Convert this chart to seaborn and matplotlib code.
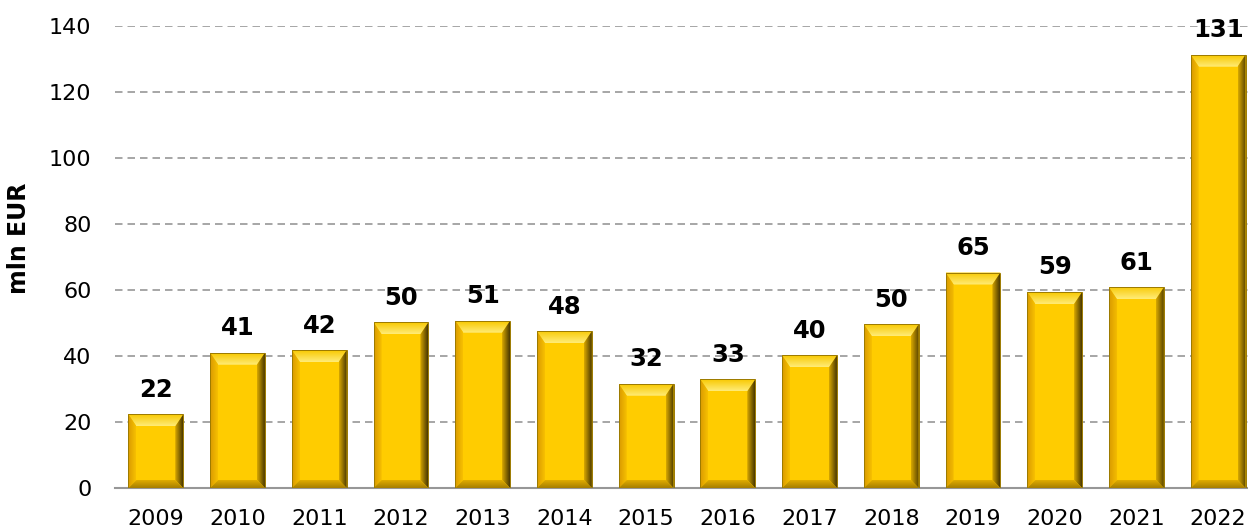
import numpy as np
import matplotlib.pyplot as plt
import seaborn as sns
from matplotlib.patches import Polygon
from matplotlib.colors import LinearSegmentedColormap

# data
years = ['2009', '2010', '2011', '2012', '2013', '2014', '2015',
         '2016', '2017', '2018', '2019', '2020', '2021', '2022']
values = [22.3, 41.0, 41.8, 50.2, 50.7, 47.5, 31.6,
          32.9, 40.2, 49.6, 65.3, 59.4, 60.8, 131.3]
labels = ['22', '41', '42', '50', '51', '48', '32',
          '33', '40', '50', '65', '59', '61', '131']

sns.set_style('white')
plt.rcParams['font.family'] = ['DejaVu Sans']


def grad_poly(ax, pts, c_from, c_to, direction):
    # fill a polygon with a linear gradient (c_from at the low side)
    poly = Polygon(pts, closed=True, facecolor='none', edgecolor='none')
    ax.add_patch(poly)
    xs, ys = zip(*pts)
    cmap = LinearSegmentedColormap.from_list('g', [c_from, c_to])
    if direction == 'x':
        arr = np.linspace(0, 1, 64).reshape(1, -1)
    else:
        arr = np.linspace(0, 1, 64).reshape(-1, 1)
    im = ax.imshow(arr, cmap=cmap, extent=[min(xs), max(xs), min(ys), max(ys)],
                   origin='lower', aspect='auto', zorder=3, interpolation='bilinear')
    im.set_clip_path(poly)


fig = plt.figure(figsize=(12.48, 5.29), dpi=100)
ax = fig.add_axes([115 / 1248, 41 / 529, 1144 / 1248, 462 / 529])

sns.barplot(x=years, y=values, color='#FFCC00', width=0.67, saturation=1,
            edgecolor='none', ax=ax)

# bevel sizes in pixels -> data units
px_x = 14 / 1144
px_y = 140 / 462
side = 8 * px_x
top_b = 12 * px_y
bot_b = 8 * px_y

bars = list(ax.patches)
for bar in bars:
    x0 = bar.get_x()
    x1 = x0 + bar.get_width()
    h = bar.get_height()
    grad_poly(ax, [(x0, h), (x1, h), (x1 - side, h - top_b), (x0 + side, h - top_b)],
              '#FFEC78', '#F8C800', 'y')
    grad_poly(ax, [(x0, h), (x0 + side, h - top_b), (x0 + side, bot_b), (x0, 0)],
              '#D99A00', '#F7C000', 'x')
    grad_poly(ax, [(x1, h), (x1 - side, h - top_b), (x1 - side, bot_b), (x1, 0)],
              '#D8A800', '#4A3800', 'x')
    grad_poly(ax, [(x0, 0), (x1, 0), (x1 - side, bot_b), (x0 + side, bot_b)],
              '#A67E00', '#E0AC00', 'y')
    ax.add_patch(Polygon([(x0, 0), (x0, h), (x1, h), (x1, 0)], closed=True,
                         facecolor='none', edgecolor='#9C7A00', linewidth=0.7, zorder=4))

for bar, lab in zip(bars, labels):
    ax.annotate(lab, (bar.get_x() + bar.get_width() / 2, bar.get_height()),
                xytext=(0, 9), textcoords='offset points', ha='center', va='bottom',
                fontsize=17.5, fontweight='bold', color='black', zorder=5)

ax.set_xlim(-0.5, 13.5)
ax.set_ylim(0, 140)

# grid and axes styling
ax.set_yticks(range(0, 141, 20))
ax.yaxis.grid(True, color='#979797', linestyle=(0, (4.5, 3)), linewidth=1.2)
ax.set_axisbelow(True)
for s in ['left', 'right', 'top']:
    ax.spines[s].set_visible(False)
ax.spines['bottom'].set_color('#979797')
ax.spines['bottom'].set_linewidth(1.5)

ax.set_xticks([i - 0.5 for i in range(15)], minor=True)
ax.tick_params(axis='x', which='major', length=0, pad=15, labelsize=16, labelcolor='black')
ax.tick_params(axis='x', which='minor', length=8, width=1.5, color='#979797', direction='out')
ax.tick_params(axis='y', length=0, pad=17, labelsize=16, labelcolor='black')
ax.set_xlabel('')
ax.set_ylabel('mln EUR', fontsize=17, fontweight='bold', color='black')
ax.yaxis.set_label_coords(-0.073, 0.54)

fig.savefig('out.png', dpi=100)
